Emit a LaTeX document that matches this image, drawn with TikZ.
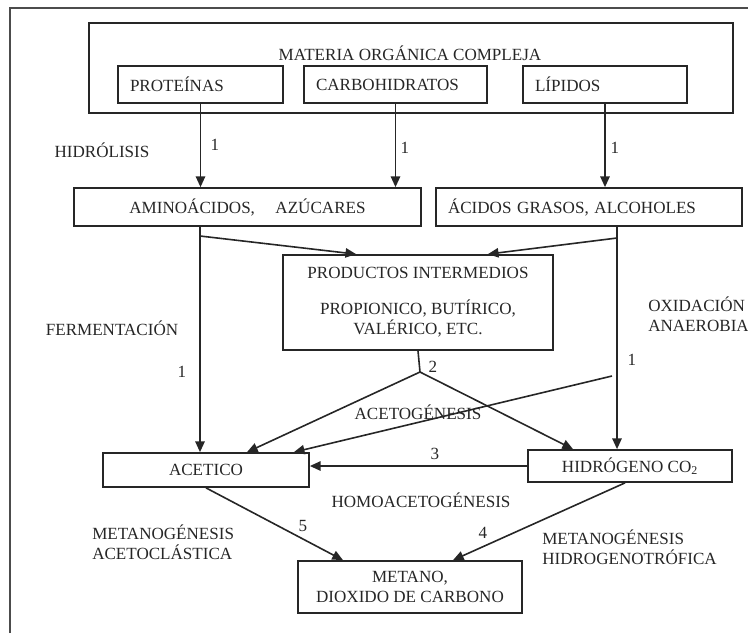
\documentclass[tikz,border=0pt]{standalone}
\usepackage{fontspec}
\setmainfont{Liberation Serif}
\usetikzlibrary{arrows.meta,positioning}

\begin{document}
\begin{tikzpicture}[x=0.75pt,y=-0.75pt,
    box/.style={draw=black!85,line width=1.3pt,inner sep=0pt,align=center,text=black!85},
    leftbox/.style={box,inner xsep=9pt,align=left},
    arr/.style={draw=black!85,line width=1.2pt,-{Triangle[length=8pt,width=7pt]}},
    lbl/.style={inner sep=0pt,text=black!85,align=left}]
    \useasboundingbox (0,0) rectangle (748,633);
    {\fontsize{12.8}{15}\selectfont

    % Drawing frame
    \draw [line width=1.4pt,black!70] (10,633) -- (10,8) -- (748,8);

    % Materia organica
    \node [box,minimum width=483pt,minimum height=67.5pt] (materia) at (411,68) {};
    \node [lbl] (materiatxt) at (410,53) {MATERIA ORGÁNICA COMPLEJA};
    \node [leftbox,text width=105.75pt,minimum height=27.75pt] (prot) at (200.5,84.5) {PROTEÍNAS};
    \node [leftbox,text width=119.25pt,minimum height=27.75pt] (carbo) at (395.5,84.5) {CARBOHIDRATOS};
    \node [leftbox,text width=105pt,minimum height=27.75pt] (lip) at (605,84.5) {LÍPIDOS};

    % Hidrolisis
    \node [box,minimum width=260.25pt,minimum height=28.5pt] (amino) at (247.5,207) {AMINOÁCIDOS,\hspace{1.2em}AZÚCARES};
    \node [leftbox,text width=211.5pt,minimum height=28.5pt] (acidos) at (589,207) {ÁCIDOS GRASOS, ALCOHOLES};
    \draw [arr] (prot.south) -- (prot.south |- amino.north);
    \draw [arr] (carbo.south) -- (carbo.south |- amino.north);
    \draw [arr] (lip.south) -- (lip.south |- acidos.north);
    \node [lbl] (hidro) at (102,150) {HIDRÓLISIS};
    \node [lbl] (uno1) at (215,145) {1};
    \node [lbl] (uno2) at (405,148) {1};
    \node [lbl] (uno3) at (615,148) {1};

    % Productos intermedios
    \node [box,minimum width=202.5pt,minimum height=71.25pt] (prod) at (418,302.5)
        {PRODUCTOS INTERMEDIOS\\[12pt]PROPIONICO, BUTÍRICO,\\VALÉRICO, ETC.};
    \node [box,minimum width=154.5pt,minimum height=25.5pt] (acetico) at (206,470) {ACETICO};
    \node [box,minimum width=153pt,minimum height=24pt] (hidrog) at (630,466) {HIDRÓGENO CO\textsubscript{2}};
    \node [box,minimum width=168pt,minimum height=39pt] (metano) at (410,587) {METANO,\\DIOXIDO DE CARBONO};

    % Fermentacion y oxidacion
    \coordinate (ferm) at (200,236);
    \coordinate (oxid) at (617,238);
    \coordinate (cruce) at (612,376);
    \coordinate (apex) at (420,372);
    \draw [arr] ([xshift=-4.5pt]acetico.north |- amino.south) -- ([xshift=-4.5pt]acetico.north);
    \draw [arr] (ferm) -- ([xshift=55.5pt]prod.north west);
    \draw [arr] ([xshift=-9.75pt]hidrog.north |- acidos.south) -- ([xshift=-9.75pt]hidrog.north);
    \draw [arr] (oxid) -- ([xshift=-49.5pt]prod.north east);
    \draw [arr] (cruce) -- ([xshift=-12pt]acetico.north east);
    \node [lbl] (fermtxt) at (112,328) {FERMENTACIÓN};
    \node [lbl,anchor=west] (oxidtxt) at (648,314) {OXIDACIÓN\\ANAEROBIA};
    \node [lbl] (uno4) at (182,372) {1};
    \node [lbl] (uno5) at (632,360) {1};

    % Acetogenesis
    \draw [line width=1.2pt,black!85] (prod.south) -- (apex);
    \draw [arr] (apex) -- ([xshift=30.75pt]acetico.north);
    \draw [arr] (apex) -- ([xshift=-42.75pt]hidrog.north);
    \draw [arr] (hidrog.west) -- (hidrog.west -| acetico.east);
    \node [lbl] (dos) at (433,367) {2};
    \node [lbl] (tres) at (435,454) {3};
    \node [lbl] (acetotxt) at (418,412) {ACETOGÉNESIS};
    \node [lbl] (homotxt) at (421,500) {HOMOACETOGÉNESIS};

    % Metanogenesis
    \draw [arr] (acetico.south) -- ([xshift=-50.25pt]metano.north);
    \draw [arr] ([xshift=-3.75pt]hidrog.south) -- ([xshift=32.25pt]metano.north);
    \node [lbl] (cinco) at (303,526) {5};
    \node [lbl] (cuatro) at (483,533) {4};
    \node [lbl,anchor=west] (metaceto) at (92,542) {METANOGÉNESIS\\ACETOCLÁSTICA};
    \node [lbl,anchor=west] (methidro) at (542,547) {METANOGÉNESIS\\HIDROGENOTRÓFICA};
    }
\end{tikzpicture}
\end{document}
